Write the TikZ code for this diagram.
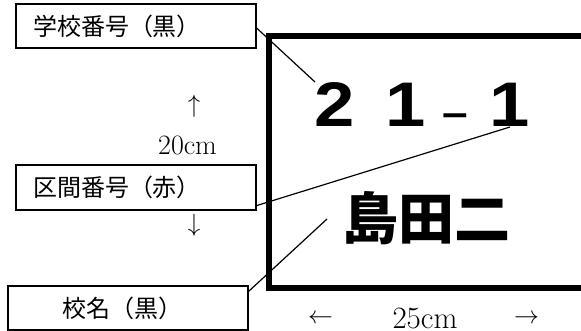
\documentclass[tikz,border=0pt]{standalone}
\usepackage{fontspec}
\newfontfamily\cjk{Noto Sans CJK JP}
\newfontfamily\numfont[FakeStretch=1.15]{Liberation Sans}
\begin{document}
\begin{tikzpicture}[x=1pt,y=-1pt,
  label/.style={draw, line width=1.2pt, inner ysep=0pt, align=left,
    font=\cjk\fontsize{24}{26}\selectfont},
  leader/.style={line width=1.2pt},
  dim/.style={inner sep=0pt, font=\fontsize{28}{30}\selectfont},
  sign/.style={line width=6pt, line join=miter}]
\useasboundingbox (0,0) rectangle (581,331);
% sign board (right edge lies beyond the picture)
\draw[sign] (595,36.5) -- (268.5,36.5) -- (268.5,288) -- (595,288);
% sign contents
\node[anchor=base west, inner sep=0pt, font=\numfont\bfseries\fontsize{63}{63}\selectfont] (num) at (313.9,127)
  {2\hspace{31.2pt}1\hspace{17pt}{\fontsize{40}{40}\selectfont –}\hspace{20.6pt}1};
\node[inner sep=0pt, font=\cjk\bfseries\fontsize{56}{56}\selectfont] (name) at (426.5,218.5) {島田二};
% labels
\node[label, minimum height=44pt, inner xsep=17pt, text width=206pt] (b1) at (136,26) {学校番号（黒）};
\node[label, minimum height=45pt, inner xsep=17pt, text width=206pt] (b2) at (136,187.5) {区間番号（赤）};
\node[label, minimum height=44pt, inner xsep=54pt, text width=132pt] (b3) at (128,308) {校名（黒）};
% leader end points
\coordinate (p1) at (315,82);
\coordinate (p2) at (510,127);
\coordinate (p3) at (327,219);
\draw[leader] ([yshift=-2pt]b1.east) -- (p1);
\draw[leader] ([yshift=5pt]b2.south east) -- (p2);
\draw[leader] ([yshift=-6pt]b3.north east) -- (p3);
% dimensions
\node[dim] (up) at (194,106.5) {$\uparrow$};
\node[dim, anchor=base] (h) at (187.5,155) {20cm};
\node[dim] (down) at (194,225) {$\downarrow$};
\node[dim, font=\fontsize{27}{30}\selectfont] (left) at (320.5,319) {$\leftarrow$};
\node[dim, anchor=base, font=\fontsize{31}{33}\selectfont] (w) at (425,328.5) {25cm};
\node[dim, font=\fontsize{27}{30}\selectfont] (right) at (526.5,319) {$\rightarrow$};
\end{tikzpicture}
\end{document}
